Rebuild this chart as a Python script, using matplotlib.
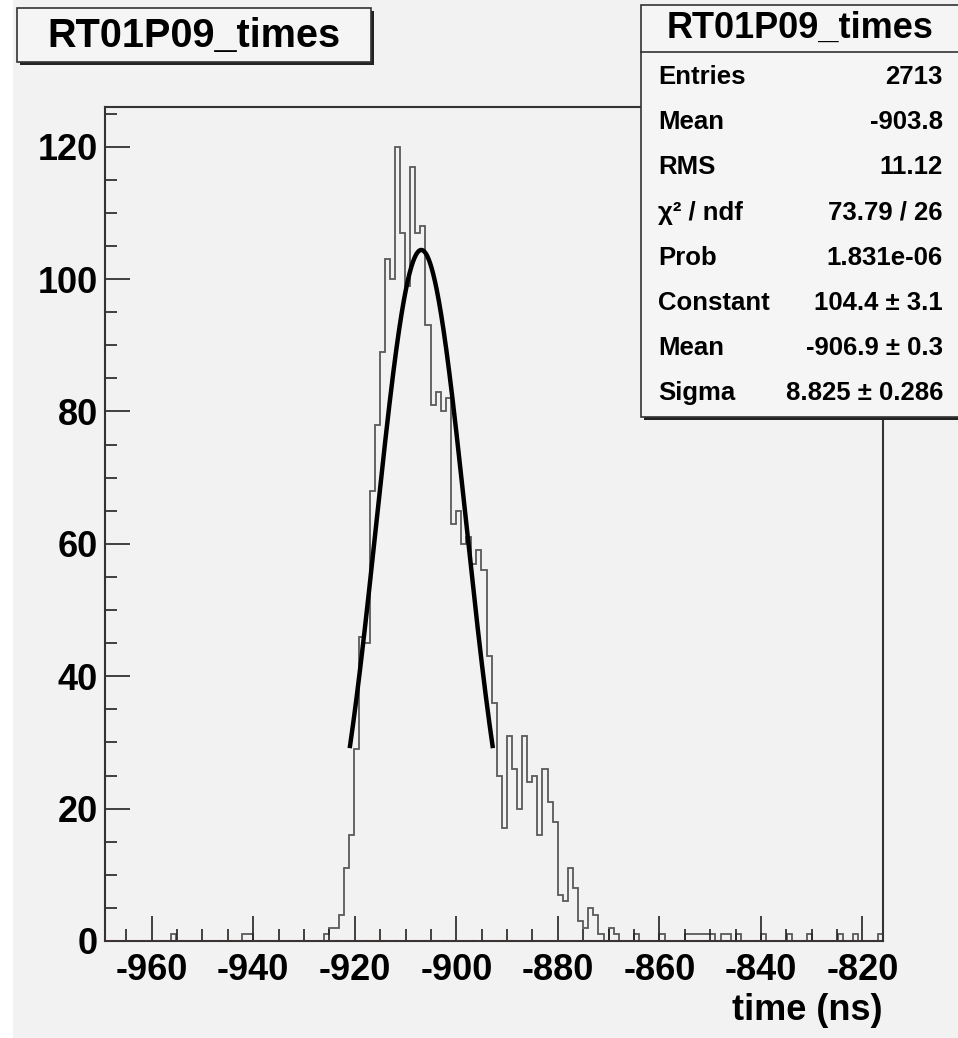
import numpy as np
import matplotlib.pyplot as plt
from matplotlib.patches import Rectangle
from matplotlib.ticker import MultipleLocator

plt.rcParams['font.family'] = ['Liberation Sans', 'DejaVu Sans']
plt.rcParams['axes.unicode_minus'] = False

#%% data
hist_name = 'RT01P09_times'
x_lo, x_hi = -969.2, -815.9          # histogram range (ns)
y_max = 126

# counts per 1 ns bin, left to right
counts = [0] * 13 + [1] + [0] * 13 + [1, 1] + [0] * 14 + [
    1, 2, 2, 4, 11, 16, 29,                       # 43-49
    46, 45, 68, 78, 89, 103, 100, 120, 107, 99,   # 50-59
    117, 107, 108, 93, 81, 83, 80, 82, 63, 65,    # 60-69
    60, 61, 57, 59, 56, 43, 36, 25, 17, 31,       # 70-79
    26, 20, 31, 24, 25, 16, 26, 21, 18, 7,        # 80-89
    6, 11, 8, 3, 2, 5, 4, 1, 0, 2, 1,             # 90-100
    0, 0, 0, 1, 0, 0, 0, 0, 1, 0,                 # 101-110
    0, 0, 0, 1, 1, 1, 1, 1, 1, 0,                 # 111-120
    1, 1, 0, 1, 0, 0, 0, 0, 1, 0,                 # 121-130
    0, 0, 0, 1, 0, 0, 0, 1, 0, 0,                 # 131-140
    0, 0, 0, 1, 0, 0, 1, 0, 0, 0,                 # 141-150
    0, 1]                                         # 151-152

fit_const, fit_mean, fit_sigma = 104.4, -906.9, 8.825
fit_lo, fit_hi = -921.0, -892.8

stat_labels = ['Entries', 'Mean', 'RMS', 'χ² / ndf', 'Prob',
               'Constant', 'Mean', 'Sigma']
stat_values = ['2713', '-903.8', '11.12', '73.79 / 26', '1.831e-06',
               '104.4 ± 3.1', '-906.9 ± 0.3', '8.825 ± 0.286']

#%% figure
W, H = 958, 1038
bg = '#f2f2f2'
fig = plt.figure(figsize=(W / 100, H / 100), dpi=100, facecolor='white')

def fx(px):
    return px / W

def fy(py):
    return 1 - py / H

# grey canvas (thin white strip on the left/top like the screenshot)
fig.add_artist(Rectangle((fx(13), -0.01), 1, 1.01 + fy(4), transform=fig.transFigure,
                         facecolor=bg, edgecolor='none', zorder=0))

ax = fig.add_axes([fx(105), fy(941), fx(883.3) - fx(105), fy(107) - fy(941)])
ax.set_facecolor(bg)

edges = np.linspace(x_lo, x_hi, len(counts) + 1)
ax.stairs(counts, edges, color='#5a5a5a', lw=1.3, baseline=0)

xf = np.linspace(fit_lo, fit_hi, 300)
yf = fit_const * np.exp(-0.5 * ((xf - fit_mean) / fit_sigma) ** 2)
ax.plot(xf, yf, color='black', lw=3.2, solid_capstyle='butt')

ax.axhline(0, color='#b03030', lw=1.0, ls=(0, (5, 2)), zorder=3)

ax.set_xlim(x_lo, x_hi)
ax.set_ylim(0, y_max)
ax.xaxis.set_major_locator(MultipleLocator(20))
ax.xaxis.set_minor_locator(MultipleLocator(5))
ax.yaxis.set_major_locator(MultipleLocator(20))
ax.yaxis.set_minor_locator(MultipleLocator(5))
ax.tick_params(which='both', direction='in', top=False, right=False,
               width=1.2, color='#222222')
ax.tick_params(which='major', length=18, labelsize=26)
ax.tick_params(which='minor', length=8.5)
ax.tick_params(axis='x', which='major', pad=9)
ax.tick_params(axis='y', which='major', pad=5)
for lab in ax.get_xticklabels() + ax.get_yticklabels():
    lab.set_fontweight('bold')
for sp in ax.spines.values():
    sp.set_color('#333333')
    sp.set_linewidth(1.5)

fig.text(fx(883), fy(1010), 'time (ns)', ha='right', va='center',
         fontsize=26, fontweight='bold')

# title box with shadow
fig.add_artist(Rectangle((fx(20), fy(65)), fx(354), fy(0) - fy(54),
                         transform=fig.transFigure, facecolor='#222222',
                         edgecolor='none', zorder=5))
fig.add_artist(Rectangle((fx(17), fy(62)), fx(354), fy(0) - fy(54),
                         transform=fig.transFigure, facecolor='#f5f5f5',
                         edgecolor='#333333', lw=1.2, zorder=6))
fig.text(fx(194), fy(36), hist_name, ha='center', va='center',
         fontsize=28.5, fontweight='bold', zorder=7)

# stats box
fig.add_artist(Rectangle((fx(644), fy(420)), fx(320), fy(0) - fy(415),
                         transform=fig.transFigure, facecolor='#222222',
                         edgecolor='none', zorder=5))
fig.add_artist(Rectangle((fx(641), fy(417)), fx(320), fy(0) - fy(412),
                         transform=fig.transFigure, facecolor='#f5f5f5',
                         edgecolor='#333333', lw=1.2, zorder=6))
fig.add_artist(plt.Line2D([fx(641), 1], [fy(52), fy(52)],
                          transform=fig.transFigure, color='#333333',
                          lw=1.2, zorder=7))
fig.text(fx(800), fy(28), hist_name, ha='center', va='center',
         fontsize=26, fontweight='bold', zorder=7)
for i, (lab, val) in enumerate(zip(stat_labels, stat_values)):
    yy = fy(77 + i * 45.2)
    fig.text(fx(658), yy, lab, ha='left', va='center', fontsize=18.5,
             fontweight='bold', zorder=7)
    fig.text(fx(943), yy, val, ha='right', va='center', fontsize=18.5,
             fontweight='bold', zorder=7)

fig.savefig('out.png', dpi=100, facecolor=fig.get_facecolor())
